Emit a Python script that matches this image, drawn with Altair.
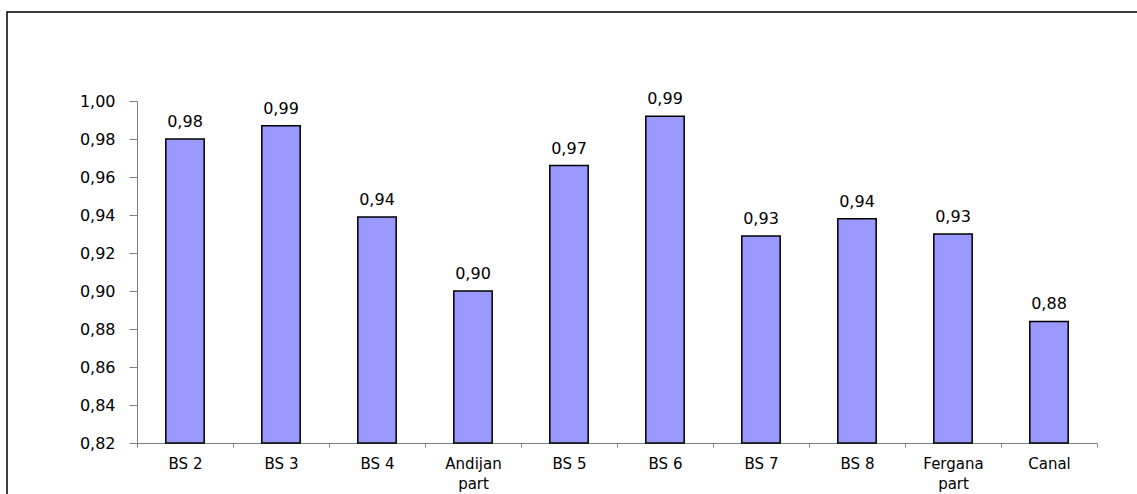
import altair as alt
import pandas as pd

categories = ["BS 2", "BS 3", "BS 4", "Andijan part", "BS 5", "BS 6", "BS 7", "BS 8", "Fergana part", "Canal"]
values = [0.980, 0.987, 0.939, 0.900, 0.966, 0.992, 0.929, 0.938, 0.930, 0.884]
y_ticks = [0.82, 0.84, 0.86, 0.88, 0.90, 0.92, 0.94, 0.96, 0.98, 1.00]

df = pd.DataFrame({"cat": categories, "v": values, "base": [0.82] * len(values)})

FONT = "DejaVu Sans"

x_enc = alt.X(
    "cat:N",
    sort=categories,
    scale=alt.Scale(paddingInner=0, paddingOuter=0),
    axis=alt.Axis(
        orient="bottom",
        title=None,
        labelAngle=0,
        labelFont=FONT,
        labelFontSize=15,
        labelColor="black",
        labelPadding=9,
        labelLineHeight=20,
        labelExpr="datum.label == 'Andijan part' ? ['Andijan', 'part'] : (datum.label == 'Fergana part' ? ['Fergana', 'part'] : datum.label)",
        domainColor="#808080",
        tickColor="#808080",
        tickSize=4,
        tickBand="extent",
    ),
)

y_enc = alt.Y(
    "v:Q",
    scale=alt.Scale(domain=[0.82, 1.00], nice=False, zero=False),
    axis=alt.Axis(
        orient="left",
        title=None,
        values=y_ticks,
        tickCount=10,
        labelOverlap=False,
        labelExpr="replace(format(datum.value, '.2f'), '.', ',')",
        labelFont=FONT,
        labelFontSize=16,
        labelColor="black",
        labelPadding=14,
        domainColor="#808080",
        tickColor="#808080",
        tickSize=8,
        grid=False,
    ),
)

base = alt.Chart(df).encode(x=x_enc, y=y_enc)

bars = base.mark_bar(
    color="#9999FF", stroke="black", strokeWidth=1.5, width=alt.RelativeBandSize(0.4)
).encode(y2="base:Q")

labels = base.transform_calculate(
    lab="replace(format(datum.v, '.2f'), '.', ',')"
).mark_text(
    font=FONT, fontSize=16, color="black", baseline="alphabetic", dy=-12
).encode(text="lab:N")

frame = alt.Chart(pd.DataFrame({"a": [0]})).mark_rect(
    fillOpacity=0, stroke="black", strokeWidth=1.5, clip=False
).encode(
    x=alt.value(-130), x2=alt.value(1010), y=alt.value(-89), y2=alt.value(420)
)

chart = alt.layer(bars, labels, frame).properties(
    width=960,
    height=342,
    padding={"left": 137, "top": 101, "right": 40, "bottom": 51},
    autosize=alt.AutoSizeParams(type="none"),
).configure(background="white").configure_view(stroke=None)

chart.save("out.html", embed_options={"renderer": "svg", "actions": False})
